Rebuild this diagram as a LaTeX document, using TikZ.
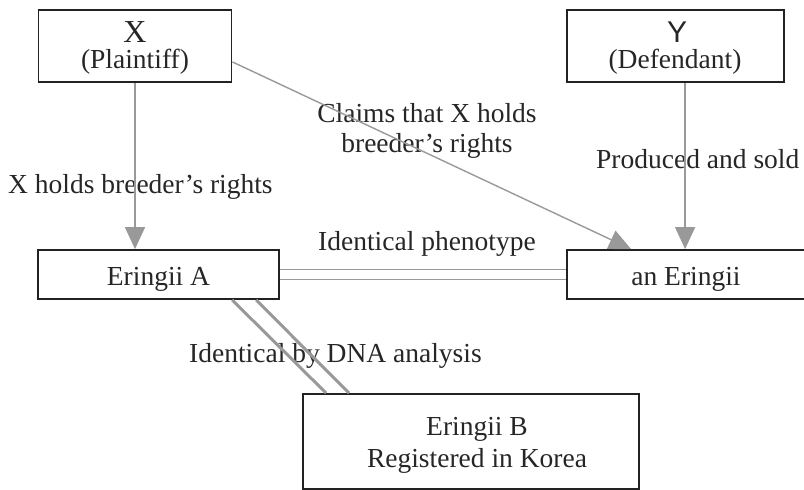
\documentclass[tikz,border=0pt]{standalone}
\usepackage{fontspec}
\setmainfont{Liberation Serif}
\newfontfamily\sansY{Liberation Sans}
\usetikzlibrary{arrows.meta}
\definecolor{linegray}{HTML}{999999}
\definecolor{boxline}{HTML}{222222}
\begin{document}
\begin{tikzpicture}[x=1pt,y=-1pt,
  box/.style={draw=boxline, line width=1.8pt, fill=none, inner sep=0pt, rectangle},
  txt/.style={inner sep=0pt, anchor=base, font=\fontsize{27.5}{33}\selectfont, text=black!85},
  big/.style={inner sep=0pt, anchor=base, font=\fontsize{32}{36}\selectfont, text=black!85},
  conn/.style={draw=linegray, line width=1.6pt},
  arr/.style={conn, -{Triangle[width=20pt,length=22pt]}, color=linegray},
  dbl/.style={draw=linegray, double=white},
  thickgray/.style={draw=linegray, line width=3pt},
]
\useasboundingbox (0,0) rectangle (804,490);
\clip (0,0) rectangle (804,490);

% boxes
\node[box, minimum width=193pt, minimum height=72pt] (X) at (135,46) {};
\node[box, minimum width=217pt, minimum height=72pt] (Y) at (675.5,46) {};
\node[box, minimum width=241pt, minimum height=49pt] (A) at (158.5,274.5) {};
\node[box, minimum width=253pt, minimum height=49pt] (E) at (693.5,274.5) {};
\node[box, minimum width=336pt, minimum height=95pt] (B) at (471,441.5) {};

% box texts
\node[big] (tX) at (135,42) {X};
\node[txt] (tP) at (135,68) {(Plaintiff)};
\node[big, font=\sansY\fontsize{30}{34}\selectfont] (tY) at (677,42) {Y};
\node[txt] (tD) at (675,68) {(Defendant)};
\node[txt] (tA) at (158.5,285) {Eringii A};
\node[txt] (tE) at (686,285) {an Eringii};
\node[txt] (tB1) at (477,435) {Eringii B};
\node[txt] (tB2) at (477,467) {Registered in Korea};

% connector labels
\node[txt] (lc1) at (427,122) {Claims that X holds};
\node[txt] (lc2) at (427,152) {breeder’s rights};
\node[txt] (lp) at (427,250) {Identical phenotype};
\node[txt, anchor=base west] (lx) at (8,193) {X holds breeder’s rights};
\node[txt, anchor=base west] (ls) at (596,168) {Produced and sold};
\node[txt, anchor=base west] (ld) at (189,362) {Identical by DNA analysis};

% connectors
\draw[arr] (X.south) -- (X.south |- A.north);
\coordinate (Etip) at ([xshift=119pt]E.north west);
\draw[arr] (Etip |- Y.south) -- (Etip);
\coordinate (Xout) at ([yshift=21pt]X.south east);
\coordinate (Ctip) at ([xshift=65pt]E.north west);
\draw[arr, line width=1.4pt] (Xout) -- (Ctip);
\draw[dbl, line width=1.5pt, double distance=8.5pt] (A.east) -- (A.east -| E.west);
\coordinate (Abot1) at ([xshift=195pt]A.south west);
\coordinate (Abot2) at ([xshift=219pt]A.south west);
\coordinate (Btop1) at ([xshift=24pt]B.north west);
\coordinate (Btop2) at ([xshift=47pt]B.north west);
\draw[thickgray] (Abot1) -- (Btop1);
\draw[thickgray] (Abot2) -- (Btop2);
\end{tikzpicture}
\end{document}
